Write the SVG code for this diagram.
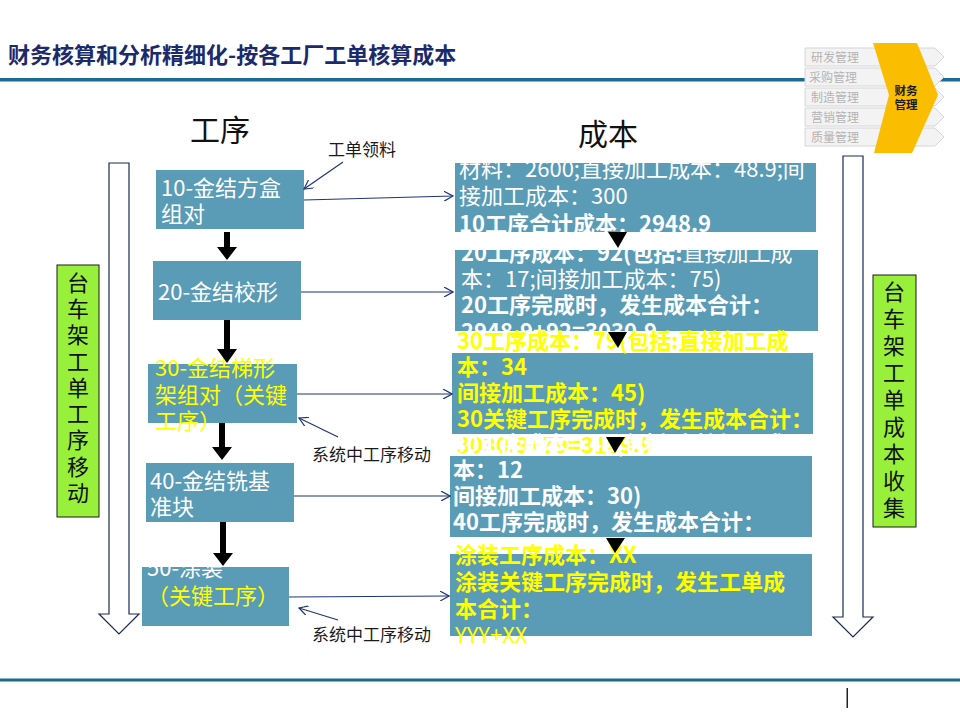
<svg xmlns="http://www.w3.org/2000/svg" width="960" height="720" viewBox="0 0 960 720">
<defs>
<style>
text{font-family:"Noto Sans CJK SC","Noto Sans",sans-serif}
.box{fill:#5a9bb6}
.w{fill:#ffffff}
.y{fill:#ffff00}
.b{font-weight:bold}
.f21{font-size:22px}
.lbl{font-size:17px;fill:#1a1a1a}
.nav{fill:#f3f3f3;stroke:#d6d6d6;stroke-width:1}
.navt{font-size:12px;fill:#b3b3b3}
.conn{stroke:#1f3577;stroke-width:1.2;fill:none}
.thk{fill:#000}
.vbar{fill:#ffffff;stroke:#1b2a55;stroke-width:1.2}
.green{fill:#99f03a;stroke:#1a1a1a;stroke-width:1}
.vt{font-size:22px;fill:#111;text-anchor:middle}
.tri{fill:#000}
</style>
<marker id="open" viewBox="0 0 10 10" refX="9" refY="5" markerWidth="10" markerHeight="10" markerUnits="userSpaceOnUse" orient="auto">
<path d="M0,0 L9,5 L0,10" fill="none" stroke="#1f3577" stroke-width="1.2"/>
</marker>
</defs>
<rect width="960" height="720" fill="#ffffff"/>

<g id="header">
<text x="8" y="63" font-size="22" font-weight="bold" fill="#1b2a6b">财务核算和分析精细化-按各工厂工单核算成本</text>
<rect x="0" y="78" width="960" height="3.5" fill="#1d6b94"/>
</g>

<g id="nav">
<polygon class="nav" points="805,48 935,48 944,57 935,66 805,66"/>
<polygon class="nav" points="805,68 935,68 944,77 935,86 805,86"/>
<polygon class="nav" points="805,88 935,88 944,97 935,106 805,106"/>
<polygon class="nav" points="805,108 935,108 944,117 935,126 805,126"/>
<polygon class="nav" points="805,128 935,128 944,137 935,146 805,146"/>
<text class="navt" x="811" y="62">研发管理</text>
<text class="navt" x="809" y="82">采购管理</text>
<text class="navt" x="811" y="102">制造管理</text>
<text class="navt" x="811" y="122">营销管理</text>
<text class="navt" x="811" y="142">质量管理</text>
<polygon points="873,43 917,43 938,95 912,153 874,153 889,95" fill="#fbbd00"/>
<text x="906" y="95" font-size="11.5" font-weight="bold" fill="#1a1a1a" text-anchor="middle">财务</text>
<text x="906" y="109" font-size="11.5" font-weight="bold" fill="#1a1a1a" text-anchor="middle">管理</text>
</g>

<g id="headings">
<text x="190" y="141" font-size="30" fill="#111">工序</text>
<text x="578" y="145" font-size="30" fill="#111">成本</text>
</g>

<g id="left-flow">
<polygon class="vbar" points="109,163 129,163 129,614 139,614 119,634 99,614 109,614"/>
<rect class="green" x="57" y="265" width="42" height="252"/>
<text class="vt" x="78" y="291">台</text>
<text class="vt" x="78" y="317">车</text>
<text class="vt" x="78" y="343">架</text>
<text class="vt" x="78" y="370">工</text>
<text class="vt" x="78" y="396">单</text>
<text class="vt" x="78" y="422">工</text>
<text class="vt" x="78" y="448">序</text>
<text class="vt" x="78" y="475">移</text>
<text class="vt" x="78" y="501">动</text>
</g>

<g id="right-flow">
<polygon class="vbar" points="843,156 863,156 863,617 873,617 853,637 833,617 843,617"/>
<rect class="green" x="873" y="275" width="43" height="252"/>
<text class="vt" x="894" y="300">台</text>
<text class="vt" x="894" y="327">车</text>
<text class="vt" x="894" y="354">架</text>
<text class="vt" x="894" y="381">工</text>
<text class="vt" x="894" y="408">单</text>
<text class="vt" x="894" y="435">成</text>
<text class="vt" x="894" y="462">本</text>
<text class="vt" x="894" y="489">收</text>
<text class="vt" x="894" y="516">集</text>
</g>

<g id="op10">
<rect class="box" x="156" y="170" width="148" height="59"/>
<text class="w f21" x="161" y="196">10-金结方盒</text>
<text class="w f21" x="161" y="222">组对</text>
</g>
<g id="op20">
<rect class="box" x="153" y="261" width="148" height="59"/>
<text class="w f21" x="158" y="300">20-金结校形</text>
</g>
<g id="op30">
<rect class="box" x="148" y="364" width="149" height="59"/>
<text class="y f21" x="155" y="376">30-金结梯形</text>
<text class="y f21" x="155" y="403">架组对（关键</text>
<text class="y f21" x="155" y="429">工序）</text>
</g>
<g id="op40">
<rect class="box" x="146" y="463" width="148" height="59"/>
<text class="w f21" x="150" y="489">40-金结铣基</text>
<text class="w f21" x="150" y="515">准块</text>
</g>
<g id="op50">
<rect class="box" x="142" y="567" width="147" height="59"/>
<text class="w f21" x="147" y="576">50-涂装</text>
<text class="y f21" x="147" y="604">（关键工序）</text>
</g>

<g id="cost10">
<rect class="box" x="455" y="163" width="361" height="69"/>
<text class="w f21" x="459" y="177">材料：2600;直接加工成本：48.9;间</text>
<text class="w f21" x="459" y="204">接加工成本：300</text>
<text class="w f21 b" x="459" y="232">10工序合计成本：2948.9</text>
</g>
<g id="cost20">
<rect class="box" x="455" y="250" width="363" height="81"/>
<text class="w f21" x="461" y="261"><tspan class="b">20工序成本：92(包括:</tspan>直接加工成</text>
<text class="w f21" x="461" y="287">本：17;间接加工成本：75)</text>
<text class="w f21 b" x="461" y="313">20工序完成时，发生成本合计：</text>
<text class="w f21 b" x="461" y="339">2948.9+92=3030.9</text>
</g>
<g id="cost30">
<rect class="box" x="452" y="353" width="361" height="81"/>
<text class="y f21 b" x="457" y="349">30工序成本：79(包括:直接加工成</text>
<text class="y f21 b" x="457" y="375">本：34</text>
<text class="y f21 b" x="457" y="401">间接加工成本：45)</text>
<text class="y f21 b" x="457" y="427">30关键工序完成时，发生成本合计：</text>
<text class="y f21 b" x="457" y="453">3030.9+79=3109.9</text>
</g>
<g id="cost40">
<rect class="box" x="450" y="456" width="362" height="81"/>
<text class="w f21 b" x="453" y="452">40工序成本：42(包括:直接加工成</text>
<text class="w f21 b" x="453" y="478">本：12</text>
<text class="w f21 b" x="453" y="504">间接加工成本：30)</text>
<text class="w f21 b" x="453" y="530">40工序完成时，发生成本合计：</text>
</g>
<g id="cost50">
<rect class="box" x="450" y="554" width="362" height="82"/>
<text class="y f21 b" x="455" y="563">涂装工序成本：XX</text>
<text class="y f21 b" x="455" y="590">涂装关键工序完成时，发生工单成</text>
<text class="y f21 b" x="455" y="617">本合计：</text>
<text class="y f21" x="455" y="643">YYY+XX</text>
</g>

<g id="connectors">
<polygon class="thk" points="224,232 230,232 230,247 237,247 227,260 217,247 224,247"/>
<polygon class="thk" points="224,320 230,320 230,349 237,349 227,363 217,349 224,349"/>
<polygon class="thk" points="219,423 225,423 225,447 232,447 222,460 212,447 219,447"/>
<polygon class="thk" points="220,522 226,522 226,553 233,553 223,566 213,553 220,553"/>
<polygon class="tri" points="608,232 627,232 618,248"/>
<polygon class="tri" points="608,332 627,332 618,348"/>
<polygon class="tri" points="606,437 625,437 615,453"/>
<polygon class="tri" points="606,538 625,538 615,553"/>
<line class="conn" x1="304" y1="200" x2="453" y2="196" marker-end="url(#open)"/>
<line class="conn" x1="301" y1="292" x2="453" y2="292" marker-end="url(#open)"/>
<line class="conn" x1="297" y1="394" x2="452" y2="394" marker-end="url(#open)"/>
<line class="conn" x1="294" y1="496" x2="450" y2="496" marker-end="url(#open)"/>
<line class="conn" x1="289" y1="597" x2="449" y2="596" marker-end="url(#open)"/>
<line class="conn" x1="343" y1="162" x2="304" y2="189" marker-end="url(#open)"/>
<line class="conn" x1="338" y1="437" x2="299" y2="418" marker-end="url(#open)"/>
<line class="conn" x1="338" y1="620" x2="299" y2="608" marker-end="url(#open)"/>
</g>

<g id="labels">
<text class="lbl" x="328" y="156">工单领料</text>
<text class="lbl" x="312" y="461">系统中工序移动</text>
<text class="lbl" x="312" y="641">系统中工序移动</text>
</g>

<g id="footer">
<rect x="0" y="678.5" width="960" height="3" fill="#1d6b8a"/>
<rect x="846.5" y="688" width="1.5" height="20" fill="#222"/>
</g>
</svg>
